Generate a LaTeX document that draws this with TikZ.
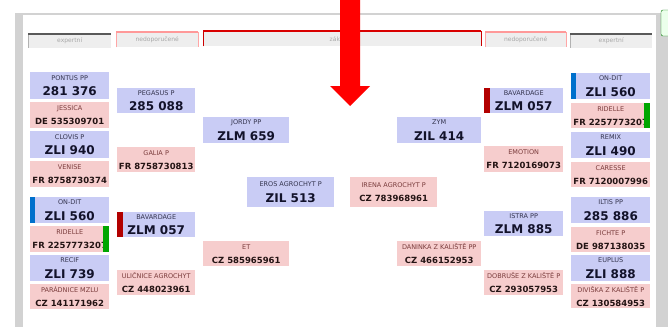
\documentclass[tikz,border=0pt]{standalone}
\usepackage{fontspec}
\setmainfont{DejaVu Sans}
\usepackage{tikz}

\definecolor{sireblue}{HTML}{C9CCF5}
\definecolor{damred}{HTML}{F6CDCD}
\definecolor{sirelabel}{HTML}{34344E}
\definecolor{damlabel}{HTML}{7A3C3C}
\definecolor{sirenumc}{HTML}{12122A}
\definecolor{damnumc}{HTML}{241414}
\definecolor{tabfill}{HTML}{EEEEEE}
\definecolor{tabtext}{HTML}{A8A8A8}
\definecolor{framegray}{HTML}{D2D2D2}

\newcommand{\sirenum}{\fontsize{12}{15.5}\selectfont\bfseries\color{sirenumc}}
\newcommand{\damnum}{\fontsize{8.5}{14}\selectfont\bfseries\color{damnumc}}

\begin{document}
\begin{tikzpicture}
			[x=1pt,y=-1pt,
			%Styles
			box/.style={anchor=north west,inner sep=0pt,align=center},
			dims/.style 2 args={minimum width=#1pt,minimum height=#2pt},
			sire/.style={box,fill=sireblue,font=\fontsize{6.5}{15.5}\selectfont\color{sirelabel}},
			dam/.style={box,fill=damred,font=\fontsize{6.5}{14}\selectfont\color{damlabel}},
			tab/.style={anchor=north west,inner sep=0pt,fill=tabfill,font=\fontsize{6}{7}\selectfont\color{tabtext}}
			]
			
			%Colors
			\colorlet{barred}{red!70!black}	%bars on the boxes
			\colorlet{barblue}{blue!45!cyan!80!black}
			\colorlet{bargreen}{green!65!black}
			
			\useasboundingbox (0,0) rectangle (668,327);
			
			%The frame
			\fill[framegray] (15,12.5) rectangle (656,14.5);
			\fill[framegray] (15,12.5) rectangle (23,327);
			\fill[framegray] (656,12.5) rectangle (668,327);
			\draw[green!45!black,fill=green!8,rounded corners=2pt] (661,10) rectangle (674,36);
			
			%The tabs
			\node[tab,dims={83}{14}] (expL) at (28,34) {expertní};
			\node[tab,dims={82}{15}] (nedL) at (116,32) {nedoporučené};
			\node[tab,dims={278}{15}] (zakl) at (203,31) {základní};
			\node[tab,dims={81}{15}] (nedR) at (485,32) {nedoporučené};
			\node[tab,dims={82}{14}] (expR) at (570,34) {expertní};
			
			\draw[gray!60] (expL.north west) -- (expL.south west) (expR.north west) -- (expR.south west);
			\draw[gray!70!black,line width=1.5pt] (expL.north west) -- (expL.north east) (expR.north west) -- (expR.north east);
			\draw[red!35] (nedL.south west) -- (nedL.north west) -- (nedL.north east) -- (nedL.south east)
				(nedR.south west) -- (nedR.north west) -- (nedR.north east) -- (nedR.south east);
			\draw[red!40,line width=1.5pt] (nedL.north west) -- (nedL.north east) (nedR.north west) -- (nedR.north east);
			\draw[red!80!black] (zakl.south west) -- (zakl.north west) (zakl.north east) -- (zakl.south east);
			\draw[red!85!black,line width=2pt] (zakl.north west) -- (zakl.north east);
			
			%The graphic
			\node[sire,dims={79}{27}] (pontus) at (30,72) {PONTUS PP\\\sirenum 281 376};
			\node[dam,dims={79}{26}] (jessica) at (30,102) {JESSICA\\\damnum DE 535309701};
			\node[sire,dims={79}{27}] (clovis) at (30,131) {CLOVIS P\\\sirenum ZLI 940};
			\node[dam,dims={79}{26}] (venise) at (30,161) {VENISE\\\damnum FR 8758730374};
			\node[sire,dims={79}{26}] (ondit) at (30,197) {ON-DIT\\\sirenum ZLI 560};
			\node[dam,dims={79}{26}] (ridelle) at (30,226) {RIDELLE\\\damnum FR 2257773207};
			\node[sire,dims={79}{26}] (recif) at (30,255) {RECIF\\\sirenum ZLI 739};
			\node[dam,dims={79}{25}] (paradnice) at (30,284) {PARÁDNICE MZLU\\\damnum CZ 141171962};
			
			\node[sire,dims={78}{25}] (pegasus) at (117,88) {PEGASUS P\\\sirenum 285 088};
			\node[dam,dims={78}{25}] (galia) at (117,147) {GALIA P\\\damnum FR 8758730813};
			\node[sire,dims={78}{25}] (bavardage) at (117,212) {BAVARDAGE\\\sirenum ZLM 057};
			\node[dam,dims={78}{25}] (ulicnice) at (117,270) {ULIČNICE AGROCHYT\\\damnum CZ 448023961};
			
			\node[sire,dims={86}{26}] (jordy) at (203,117) {JORDY PP\\\sirenum ZLM 659};
			\node[dam,dims={86}{25}] (et) at (203,241) {ET\\\damnum CZ 585965961};
			
			\node[sire,dims={87}{30}] (eros) at (247,177) {EROS AGROCHYT P\\\sirenum ZIL 513};
			\node[dam,dims={87}{30}] (irena) at (350,177) {IRENA AGROCHYT P\\\damnum CZ 783968961};
			
			\node[sire,dims={84}{26}] (zym) at (397,117) {ZYM\\\sirenum ZIL 414};
			\node[dam,dims={84}{25}] (daninka) at (397,241) {DANINKA Z KALIŠTĚ PP\\\damnum CZ 466152953};
			
			\node[sire,dims={79}{25}] (bavardageR) at (484,88) {BAVARDAGE\\\sirenum ZLM 057};
			\node[dam,dims={79}{26}] (emotion) at (484,146) {EMOTION\\\damnum FR 7120169073};
			\node[sire,dims={79}{25}] (istra) at (484,211) {ISTRA PP\\\sirenum ZLM 885};
			\node[dam,dims={79}{25}] (dobruse) at (484,270) {DOBRUŠE Z KALIŠTĚ P\\\damnum CZ 293057953};
			
			\node[sire,dims={79}{26}] (onditR) at (571,73) {ON-DIT\\\sirenum ZLI 560};
			\node[dam,dims={79}{25}] (ridelleR) at (571,103) {RIDELLE\\\damnum FR 2257773207};
			\node[sire,dims={79}{26}] (remix) at (571,132) {REMIX\\\sirenum ZLI 490};
			\node[dam,dims={79}{25}] (caresse) at (571,162) {CARESSE\\\damnum FR 7120007996};
			\node[sire,dims={79}{26}] (iltis) at (571,197) {ILTIS PP\\\sirenum 285 886};
			\node[dam,dims={79}{25}] (fichte) at (571,227) {FICHTE P\\\damnum DE 987138035};
			\node[sire,dims={79}{26}] (euplus) at (571,255) {EUPLUS\\\sirenum ZLI 888};
			\node[dam,dims={79}{24}] (diviska) at (571,284) {DIVIŠKA Z KALIŠTĚ P\\\damnum CZ 130584953};
			
			%Bars
			\fill[barred] (bavardage.north west) rectangle ([xshift=6pt]bavardage.south west);
			\fill[barred] (bavardageR.north west) rectangle ([xshift=6pt]bavardageR.south west);
			\fill[barblue] (ondit.north west) rectangle ([xshift=5pt]ondit.south west);
			\fill[barblue] (onditR.north west) rectangle ([xshift=5pt]onditR.south west);
			\fill[bargreen] ([xshift=-6pt]ridelle.north east) rectangle (ridelle.south east);
			\fill[bargreen] ([xshift=-6pt]ridelleR.north east) rectangle (ridelleR.south east);
			
			%The arrow
			\fill[red] (340,0) -- (360,0) -- (360,86) -- (370,86) -- (350,106) -- (330,86) -- (340,86) -- cycle;
		\end{tikzpicture}
\end{document}
